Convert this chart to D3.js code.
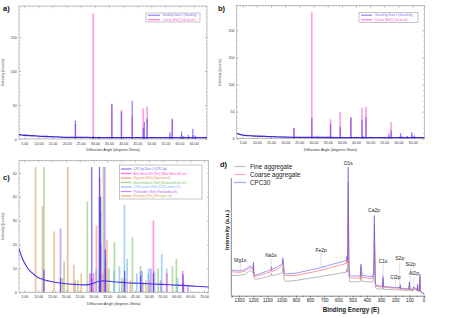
<!DOCTYPE html>
<html>
<head>
<meta charset="utf-8">
<script src="https://cdn.jsdelivr.net/npm/d3@7"></script>
<style>
  body { margin: 0; background: #fff; }
  svg { display: block; font-family: "Liberation Sans", Arial, sans-serif; }
</style>
</head>
<body>
<svg id="fig" width="450" height="318"></svg>
<script>
// ---- a) / b) calcite reference peaks and sample peaks (2theta, counts)
const calciteAngles = [23.1, 29.4, 31.4, 36.0, 39.4, 43.2, 47.1, 47.5, 48.5, 56.6, 57.4, 60.7, 61.4, 63.1, 64.7, 65.6];
const sandCounts    = [27, 5, 3, 52, 40, 56, 16, 25, 30, 10, 30, 11, 4, 6, 15, 5];
const calciteA      = [22, 185, 4, 50, 43, 33, 45, 2, 48, 5, 28, 6, 2, 3, 6, 3];
const gravelCounts  = [20, 38, 3, 28, 22, 40, 35, 5, 40, 6, 15, 10, 4, 5, 12, 6];
const calciteB      = [20, 233, 6, 36, 49, 38, 57, 3, 59, 10, 31, 5, 3, 4, 8, 4];
const bgAngles = [3, 4, 5, 7, 9, 11, 14, 17, 20, 25, 30, 40, 50, 60, 70];
const sandBg   = [6.5, 6, 5.5, 5, 4.5, 4, 3.5, 3, 2.5, 2.5, 2, 2, 2, 2, 2];
const gravelBg = [10, 8, 6.5, 5.5, 5, 4.5, 4, 3.5, 3, 2.5, 2.5, 2, 2, 2, 2];

// ---- c) CPC pattern and reference phases
const cpcBgAngles = [3, 4, 5, 6, 7, 8, 9, 10, 12, 14, 16, 18, 20, 23, 26, 28, 30, 32, 34, 36, 38, 42, 46, 50, 55, 60, 65, 70, 72];
const cpcBg       = [18.5, 15, 12.5, 10.5, 9, 8, 7, 6.2, 5.3, 4.7, 4.2, 3.9, 3.6, 3.3, 3.1, 3.2, 3.8, 4.6, 4.8, 4.6, 4.3, 4, 3.8, 3.6, 3.3, 3, 2.7, 2.3, 2.2];
const cpcPeakAngles = [12.1, 18.1, 29.4, 32.2, 32.6, 34.3, 41.3, 47.1, 51.7, 62.4];
const cpcPeakCounts = [9.5, 6, 52.5, 52.5, 40, 18, 9, 7, 8, 7.5];
const aliteAngles  = [29.5, 30.1, 32.3, 32.7, 34.4, 41.3, 51.7, 56.6, 62.3];
const aliteCounts  = [6, 8, 48, 20, 10, 6, 30, 8, 9];
const gypsumAngles = [11.6, 20.7, 23.4, 29.1, 31.1, 33.4, 43.4, 47.9, 50.3];
const gypsumCounts = [36, 52.5, 5, 8, 28, 8, 5, 4, 5];
const brownAngles  = [12.1, 19.4, 24.4, 27.8, 33.6, 35.6, 37.6, 40.3, 44.1, 47.0, 49.9, 53.4, 58.6, 60.0];
const brownCounts  = [52.5, 13, 5, 38, 52.5, 10, 21, 6, 23, 11, 8, 10, 11, 14];
const larniteAngles = [31.0, 32.1, 32.6, 34.3, 37.4, 39.4, 41.2, 42.2, 45.7, 47.6, 50.0, 52.1, 54.7, 56.5, 60.4];
const larniteCounts = [10, 40, 34, 14, 9, 11, 36.7, 14, 8, 9, 10, 9, 16, 10, 6];
const portAngles   = [18.1, 28.7, 34.1, 47.1, 50.8, 54.3, 62.6, 64.2];
const portCounts   = [26.7, 8, 52.5, 9, 10, 5, 4, 3];
const ettrAngles   = [9.1, 15.8, 18.9, 22.9, 25.6, 32.2, 34.9, 40.9, 49.0];
const ettrCounts   = [52.5, 25.5, 6, 11.5, 8, 7, 22, 5, 5];
const cLegend = ["CPC.ky Data 1 (CPC.ky)", "Alite Mono M1 (Ref) (Alite Mono M1.xh)", "Gypsum (Ref) (Gypsum.xh)",
  "Brownmillerite (Ref) (Brownmillerite.xh)", "C2S Larnite (Ref) (C2S Larnite.T1)", "Portlandite (Ref) (Portlandite.xh)",
  "Ettringite (Ref) (Ettringite.xh)"];
const cColors = ["#6a55f0", "#ff4fcf", "#f08a66", "#86c46a", "#6ab6ee", "#b068f2", "#dca260"];

// ---- d) XPS survey (binding energy eV, intensity a.u.)
const beKnots = [1355, 1300, 1260, 1235, 1220, 1208, 1202, 1199, 1196, 1190, 1150, 1100, 1075, 1072, 1069, 1040, 1010, 996, 992, 988,
  982, 975, 900, 800, 712, 708, 704, 650, 600, 560, 545, 541, 538, 535, 531, 527, 523, 510, 470, 446,
  442, 438, 434, 400, 360, 352, 349, 347, 344, 340, 330, 290, 286, 283, 250, 200, 168, 165, 162, 110,
  103, 100, 97, 80, 75, 72, 45, 42, 39, 30, 26, 23, 15, 5, -5];
const cpc30 = [19.2, 18.5, 19.5, 21.5, 22.3, 21, 20.5, 25.5, 17, 15, 16.5, 18.5, 19.5, 22, 19.8, 21, 23, 24, 28.8, 25,
  17, 16.2, 16.7, 19.2, 21.3, 22.3, 21.6, 23.5, 25, 26, 27, 30, 27, 32, 100, 30, 15, 14.5, 14.5, 14.5,
  24, 20, 15, 14.5, 14, 17, 30, 62, 35, 9, 7, 6.5, 14.6, 6.5, 6, 5.5, 5.5, 8, 5, 4.5,
  5, 10, 4.5, 4, 4, 6, 4, 8, 3.5, 3.5, 16, 3, 2, 1, 0.5];
const coarse = [17.9, 17.4, 18.2, 20.2, 21, 19.8, 19.2, 24, 15.5, 14, 15.2, 17, 18, 20.3, 18.2, 19.3, 21.2, 22, 27, 23,
  15.5, 14.9, 14.9, 17.2, 19.2, 20, 19.5, 21.3, 22.8, 23.8, 24.5, 27, 24.8, 30, 88, 27, 13.5, 12.8, 12.8, 12.8,
  22, 18, 13.5, 13, 12.5, 15.5, 27, 56, 32, 8, 6.3, 5.8, 13, 5.8, 5.4, 5, 5, 7.2, 4.5, 4,
  4.5, 9, 4, 3.6, 3.6, 5.4, 3.6, 7, 3.1, 3.1, 14, 2.7, 1.8, 0.9, 0.4];
const fine = [15, 15, 15.8, 17.8, 19, 17.5, 17, 21, 13, 12, 12.5, 14, 14.8, 16.5, 14.9, 15.5, 16.5, 17, 21, 18,
  11, 10.3, 11, 12.8, 14.3, 15, 14.5, 15.5, 16.5, 17.2, 17.6, 20, 17.5, 24, 75, 20, 10.5, 10, 10, 10,
  18, 14, 10.5, 10, 9.7, 12, 22, 50, 26, 5.5, 4.5, 4.2, 11, 4.2, 4, 3.7, 3.7, 5.8, 3.4, 3,
  3.4, 7.5, 3, 2.8, 2.8, 4.5, 2.8, 6, 2.5, 2.5, 11, 2.2, 1.5, 0.8, 0.3];
const peakNames  = ["Mg1s", "Na1s", "Fe2p", "O1s", "Ca2p", "C1s", "S2p", "Cl2p", "Si2p", "Al2p"];
const peakBE     = [1292, 1075, 722, 531, 349, 285, 168, 198, 92, 68];
const peakLabelI = [25.5, 29.5, 33.5, 101.5, 64.5, 25, 27, 12.5, 22, 15];
const beTicks = d3.range(0, 1301, 100);

const svg = d3.select("#fig");

function xrdPanel(box, xDom, yDom, xTicks, yTicks, yMinor, xTitleDy) {
  const g = svg.append("g");
  const x = d3.scaleLinear().domain(xDom).range([box.l, box.r]);
  const y = d3.scaleLinear().domain(yDom).range([box.b, box.t]);
  const id = "clip" + Math.round(box.l) + "_" + Math.round(box.t);
  svg.append("clipPath").attr("id", id)
    .append("rect").attr("x", box.l).attr("y", box.t).attr("width", box.r - box.l).attr("height", box.b - box.t);

  const tk = (axis, vals, size, tx, ty) => {
    g.append("g").attr("transform", `translate(${tx},${ty})`)
      .call(axis.tickValues(vals).tickSize(size).tickFormat(""))
      .call(s => s.select(".domain").remove())
      .selectAll("line").attr("stroke", "#8a8a8a").attr("stroke-width", 0.4);
  };
  const xMin = d3.range(Math.ceil(xDom[0]), xDom[1], 1);
  const yMin = d3.range(0, yDom[1], yMinor);
  tk(d3.axisBottom(x), xMin, -1.2, 0, box.b);
  tk(d3.axisTop(x), xMin, -1.2, 0, box.t);
  tk(d3.axisLeft(y), yMin, -1.2, box.l, 0);
  tk(d3.axisRight(y), yMin, -1.2, box.r, 0);
  tk(d3.axisBottom(x), xTicks, -2.4, 0, box.b);
  tk(d3.axisTop(x), xTicks, -2.4, 0, box.t);
  tk(d3.axisLeft(y), yTicks, -2.4, box.l, 0);
  tk(d3.axisRight(y), yTicks, -2.4, box.r, 0);

  g.append("rect").attr("x", box.l).attr("y", box.t).attr("width", box.r - box.l).attr("height", box.b - box.t)
    .attr("fill", "none").attr("stroke", "#8a8a8a").attr("stroke-width", 0.5);

  g.append("g").attr("transform", `translate(0,${box.b})`)
    .call(d3.axisBottom(x).tickValues(xTicks).tickSize(0).tickPadding(3.2).tickFormat(d3.format(".2f")))
    .call(s => s.select(".domain").remove())
    .attr("font-size", 3.6).attr("font-family", null).selectAll("text").attr("fill", "#333");
  g.append("g").attr("transform", `translate(${box.l},0)`)
    .call(d3.axisLeft(y).tickValues(yTicks).tickSize(0).tickPadding(2.2))
    .call(s => s.select(".domain").remove())
    .attr("font-size", 3.6).attr("font-family", null).selectAll("text").attr("fill", "#333");

  g.append("text").attr("x", (box.l + box.r) / 2).attr("y", box.b + xTitleDy)
    .attr("text-anchor", "middle").attr("font-size", 3.6).attr("fill", "#333")
    .text("Diffraction Angle (degrees 2theta)");
  g.append("text").attr("transform", `translate(${box.l - 15.5},${(box.t + box.b) / 2}) rotate(-90)`)
    .attr("text-anchor", "middle").attr("font-size", 3.6).attr("fill", "#333")
    .text("Intensity (counts)");

  const data = svg.append("g").attr("clip-path", `url(#${id})`);
  return { x, y, data, g };
}

function spikes(p, angles, counts, color, w, op) {
  p.data.append("g").selectAll("rect")
    .data(angles.map((a, i) => [a, counts[i]]))
    .join("rect")
    .attr("x", d => p.x(d[0]) - w / 2).attr("width", w)
    .attr("y", d => p.y(d[1])).attr("height", d => p.y(0) - p.y(d[1]))
    .attr("fill", color).attr("opacity", op);
}

function bgLine(p, angles, vals, color, w) {
  p.data.append("path")
    .datum(angles.map((a, i) => [a, vals[i]]))
    .attr("fill", "none").attr("stroke", color).attr("stroke-width", w)
    .attr("d", d3.line().x(d => p.x(d[0])).y(d => p.y(d[1])).curve(d3.curveMonotoneX));
}

function legend(box, entries, colors, lineX, textX, ys, fs) {
  const g = svg.append("g");
  g.append("rect").attr("x", box.x).attr("y", box.y).attr("width", box.w).attr("height", box.h)
    .attr("fill", "#fff").attr("stroke", "#8a8a8a").attr("stroke-width", 0.5);
  entries.forEach((t, i) => {
    g.append("line").attr("x1", lineX[0]).attr("x2", lineX[1]).attr("y1", ys[i]).attr("y2", ys[i])
      .attr("stroke", colors[i]).attr("stroke-width", 1.3).attr("opacity", 0.75);
    g.append("text").attr("x", textX).attr("y", ys[i]).attr("dy", "0.35em")
      .attr("font-size", fs).attr("fill", colors[i]).text(t);
  });
}

function panelLabel(t, x, y) {
  svg.append("text").attr("x", x).attr("y", y).attr("font-size", 7.5).attr("font-weight", "bold")
    .attr("fill", "#111").text(t);
}

const xTicks65 = d3.range(5, 66, 5);

// ---- a)
const pa = xrdPanel({ l: 19, r: 207, t: 6, b: 139 }, [3.12, 69.7], [0, 195.6], xTicks65, [0, 50, 100, 150], 5, 12.4);
spikes(pa, calciteAngles, calciteA, "#ff66cc", 1.7, 0.6);
spikes(pa, calciteAngles, sandCounts, "#5a3ff0", 1.2, 0.7);
bgLine(pa, bgAngles, sandBg, "#3b2bd6", 1.3);
legend({ x: 146, y: 13, w: 54, h: 9 }, ["Sand.ky Data 1 (Sand.ky)", "Calcite (Ref) (Calcite.xh)"],
  ["#7a66f4", "#ff55cc"], [148, 160], 162.5, [15.3, 19.7], 3.0);
panelLabel("a)", 3, 11);

// ---- b)
const pb = xrdPanel({ l: 236.7, r: 424.3, t: 5.7, b: 138.7 }, [2.88, 69.1], [0, 245.4], xTicks65, [0, 50, 100, 150, 200], 10, 12.4);
spikes(pb, calciteAngles, calciteB, "#ff66cc", 1.7, 0.6);
spikes(pb, calciteAngles, gravelCounts, "#5a3ff0", 1.2, 0.7);
bgLine(pb, bgAngles, gravelBg, "#3b2bd6", 1.3);
legend({ x: 359, y: 12.7, w: 59, h: 9.6 }, ["Gravel.ky Data 1 (Gravel.ky)", "Calcite (Ref) (Calcite.xh)"],
  ["#7a66f4", "#ff55cc"], [361, 372], 375, [15.2, 19.8], 3.0);
panelLabel("b)", 218, 11);

// ---- c)
const pc = xrdPanel({ l: 19, r: 208.7, t: 160.3, b: 292.3 }, [3.08, 71.7], [0, 55.3], d3.range(5, 71, 5), [0, 10, 20, 30, 40, 50], 2, 12.4);
spikes(pc, ettrAngles, ettrCounts, cColors[6], 1.7, 0.6);
spikes(pc, gypsumAngles, gypsumCounts, cColors[2], 1.7, 0.6);
spikes(pc, brownAngles, brownCounts, cColors[3], 1.7, 0.6);
spikes(pc, larniteAngles, larniteCounts, cColors[4], 1.7, 0.6);
spikes(pc, portAngles, portCounts, cColors[5], 1.7, 0.6);
spikes(pc, aliteAngles, aliteCounts, cColors[1], 1.7, 0.6);
spikes(pc, cpcPeakAngles, cpcPeakCounts, "#4a30e8", 1.2, 0.75);
bgLine(pc, cpcBgAngles, cpcBg, "#4a30e8", 1.1);
legend({ x: 119.3, y: 165, w: 82.7, h: 34 }, cLegend, cColors, [120.8, 131.5], 133.5,
  [169, 173.5, 178, 182.5, 187, 191.5, 196], 3.05);
panelLabel("c)", 3, 180);

// ---- d)
const xd = d3.scaleLinear().domain([1355, -5]).range([231.3, 424.3]);
const yd = d3.scaleLinear().domain([0, 100]).range([294.5, 167]);
const gd = svg.append("g");
gd.append("g").attr("transform", "translate(0,295.7)")
  .call(d3.axisBottom(xd).tickValues(d3.range(50, 1351, 100)).tickSize(1.2).tickFormat(""))
  .call(s => s.select(".domain").remove())
  .selectAll("line").attr("stroke", "#333").attr("stroke-width", 0.5);
gd.append("g").attr("transform", "translate(0,295.7)")
  .call(d3.axisBottom(xd).tickValues(beTicks).tickSize(2).tickPadding(1.5).tickFormat(d3.format("d")))
  .attr("font-size", 4.6).attr("font-family", null)
  .call(s => s.select(".domain").attr("stroke", "#333").attr("stroke-width", 0.6))
  .call(s => s.selectAll("line").attr("stroke", "#333").attr("stroke-width", 0.5))
  .selectAll("text").attr("fill", "#222");
gd.append("line").attr("x1", 231.3).attr("x2", 231.3).attr("y1", 178).attr("y2", 295.7)
  .attr("stroke", "#333").attr("stroke-width", 0.6);
gd.append("text").attr("x", 351).attr("y", 312).attr("text-anchor", "middle")
  .attr("font-size", 6.3).attr("font-weight", "bold").attr("fill", "#222").text("Binding Energy (E)");
gd.append("text").attr("transform", "translate(229,230) rotate(-90)").attr("text-anchor", "middle")
  .attr("font-size", 5.9).attr("font-weight", "bold").attr("fill", "#222").text("Intensity (a.u.)");

const dLine = d3.line().x(d => xd(d[0])).y(d => yd(d[1]));
const series = [[fine, "#8c8c8c"], [coarse, "#f25a5a"], [cpc30, "#5c5cf5"]];
series.forEach(([vals, col]) => {
  gd.append("path").datum(beKnots.map((b, i) => [b, vals[i]]))
    .attr("fill", "none").attr("stroke", col).attr("stroke-width", 0.75).attr("opacity", 0.8)
    .attr("stroke-linejoin", "round").attr("d", dLine);
});

// peak labels with leader lines down to the CPC30 trace
const bis = d3.bisector(d => -d).left;
function cpcAt(be) {
  const i = Math.max(1, Math.min(beKnots.length - 1, bis(beKnots, -be)));
  const t = (be - beKnots[i - 1]) / (beKnots[i] - beKnots[i - 1]);
  return cpc30[i - 1] + t * (cpc30[i] - cpc30[i - 1]);
}
peakNames.forEach((n, i) => {
  const px = xd(peakBE[i]);
  const ly = yd(peakLabelI[i]);
  const top = ly + 1.5;
  const bot = yd(cpcAt(peakBE[i])) - 1;
  if (bot - top > 1 && n !== "O1s" && n !== "Ca2p") {
    gd.append("line").attr("x1", px).attr("x2", px).attr("y1", top).attr("y2", bot)
      .attr("stroke", "#c8c8c8").attr("stroke-width", 0.6);
  }
  gd.append("text").attr("x", px).attr("y", ly).attr("text-anchor", "middle")
    .attr("font-size", 5).attr("fill", "#222").text(n);
});

// legend d
const dLeg = [["Fine aggregate", "#9a9a9a"], ["Coarse aggregate", "#f47a7a"], ["CPC30", "#6a6af5"]];
dLeg.forEach(([t, c], i) => {
  const yy = 166.5 + i * 8;
  gd.append("line").attr("x1", 234).attr("x2", 246).attr("y1", yy).attr("y2", yy)
    .attr("stroke", c).attr("stroke-width", 1.2).attr("opacity", 0.6);
  gd.append("text").attr("x", 250).attr("y", yy).attr("dy", "0.35em").attr("font-size", 6.3)
    .attr("fill", "#222").text(t);
});
panelLabel("d)", 220, 167);
</script>
</body>
</html>
